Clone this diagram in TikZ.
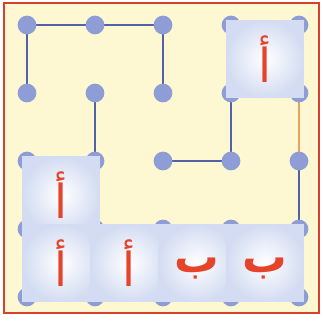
\documentclass[tikz,border=0pt]{standalone}
\usepackage{fontspec}
\usepackage{tikz}
\usetikzlibrary{fit,calc}
\TeXXeTstate=1
\newfontfamily\arabicfont[Script=Arabic]{DejaVu Sans}
\definecolor{gridblue}{HTML}{5262A8}
\definecolor{dotblue}{HTML}{8E9DD6}
\definecolor{pathorange}{HTML}{EEA060}
\definecolor{framered}{HTML}{D8402C}
\definecolor{paper}{HTML}{FDF8D2}
\definecolor{letterred}{HTML}{E5442A}
\definecolor{tileblue}{HTML}{D3DCF2}
\tikzset{
  dot/.style={circle,fill=dotblue,inner sep=0pt,minimum size=16},
  link/.style={draw=gridblue,line width=2.2pt},
  hint/.style={draw=pathorange,line width=1.6pt},
  tile/.style={rectangle,inner sep=4,draw=tileblue,line width=0.4pt,
    inner color=white,outer color=tileblue},
  letter/.style={text=letterred,font=\arabicfont\fontsize{40}{40}\selectfont,inner sep=0pt},
  heavy/.style={letter,font=\arabicfont\bfseries\fontsize{38}{38}\selectfont}
}
\begin{document}
\begin{tikzpicture}[x=0.03cm,y=-0.03cm]
  \useasboundingbox (0,0) rectangle (322,325);
  \fill[white] (0,0) rectangle (322,325);
  \fill[paper] (4,3) rectangle (319,313);
  \draw[framered,line width=2pt] (4,3) rectangle (319,313);
  % grid points
  \foreach \i in {0,...,4}
    \foreach \j in {0,...,4}
      \coordinate (p-\i-\j) at ({27+68*\i},{25+68*\j});
  % connectors
  \draw[link] (p-0-1) -- (p-0-0) -- (p-1-0) -- (p-2-0) -- (p-2-1);
  \draw[link] (p-1-1) -- (p-1-2);
  \draw[link] (p-3-1) -- (p-3-2) -- (p-2-2);
  \draw[hint] (p-4-1) -- (p-4-2);
  \draw[link] (p-4-2) -- (p-4-3);
  % dots
  \foreach \i in {0,...,4}
    \foreach \j in {0,...,4}
      \node[dot] (d-\i-\j) at (p-\i-\j) {};
  % tiles
  \node[tile,fit=(p-3-0)(p-4-1)] (t1) {};
  \node[tile,fit=(p-0-2)(p-1-3)] (t2) {};
  \node[tile,fit=(p-0-3)(p-1-4)] (t3) {};
  \node[tile,fit=(p-1-3)(p-2-4)] (t4) {};
  \node[tile,fit=(p-2-3)(p-3-4)] (t5) {};
  \node[tile,fit=(p-3-3)(p-4-4)] (t6) {};
  \node[letter] at (t1) {\beginR أ\endR};
  \node[letter] at (t2) {\beginR أ\endR};
  \node[letter] at (t3) {\beginR أ\endR};
  \node[letter] at (t4) {\beginR أ\endR};
  \node[heavy] at ($(t5)+(0,6)$) {\beginR ب\endR};
  \node[heavy] at ($(t6)+(0,6)$) {\beginR ب\endR};
\end{tikzpicture}
\end{document}
